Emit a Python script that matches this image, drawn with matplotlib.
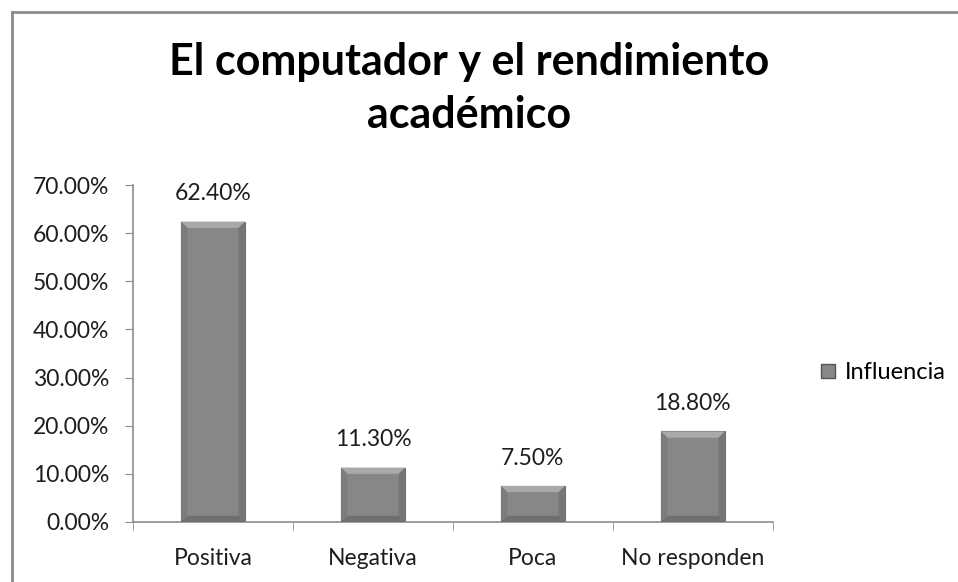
import matplotlib.pyplot as plt
from matplotlib.lines import Line2D
from matplotlib.patches import Polygon
import numpy as np

# data
categories = ["Positiva", "Negativa", "Poca", "No responden"]
influencia = [62.40, 11.30, 7.50, 18.80]
yticks = [0, 10, 20, 30, 40, 50, 60, 70]

plt.rcParams['font.family'] = ['Lato', 'DejaVu Sans']

fig = plt.figure(figsize=(9.58, 5.82), dpi=100)
ax = fig.add_axes([0.1388, 0.1031, 0.668, 0.579])

x = np.arange(len(categories))
bars = ax.bar(x, influencia, width=0.4, color='#878787', edgecolor='#707070',
              linewidth=0.8, label='Influencia', zorder=2)

# bevel effect: light top, darker sides/bottom
bx_pad, by_pad = 0.04, 1.3
for b in bars:
    x0, w, h = b.get_x(), b.get_width(), b.get_height()
    x1 = x0 + w
    ax.add_patch(Polygon([(x0, h), (x1, h), (x1 - bx_pad, h - by_pad), (x0 + bx_pad, h - by_pad)],
                         closed=True, facecolor='#a9a9a9', edgecolor='none', zorder=3))
    ax.add_patch(Polygon([(x0, 0), (x0, h), (x0 + bx_pad, h - by_pad), (x0 + bx_pad, by_pad)],
                         closed=True, facecolor='#7c7c7c', edgecolor='none', zorder=3))
    ax.add_patch(Polygon([(x1, 0), (x1, h), (x1 - bx_pad, h - by_pad), (x1 - bx_pad, by_pad)],
                         closed=True, facecolor='#767676', edgecolor='none', zorder=3))
    ax.add_patch(Polygon([(x0, 0), (x1, 0), (x1 - bx_pad, by_pad), (x0 + bx_pad, by_pad)],
                         closed=True, facecolor='#6f6f6f', edgecolor='none', zorder=3))

for xi, v in zip(x, influencia):
    ax.text(xi, v + 3.6, f"{v:.2f}%", ha='center', va='bottom', fontsize=16.5,
            color='#1e1e1e')

ax.set_xlim(-0.5, len(categories) - 0.5)
ax.set_ylim(0, 70)
ax.set_yticks(yticks)
ax.set_yticklabels([f"{t:.2f}%" for t in yticks])
ax.set_xticks(x)
ax.set_xticklabels(categories)
ax.set_xticks(np.arange(-0.5, len(categories)), minor=True)

for s in ['top', 'right']:
    ax.spines[s].set_visible(False)
for s in ['left', 'bottom']:
    ax.spines[s].set_color('#8c8c8c')
    ax.spines[s].set_linewidth(1.2)

ax.tick_params(axis='y', which='major', direction='out', length=6, color='#8c8c8c',
               labelsize=16.5, labelcolor='#1e1e1e', pad=11)
ax.tick_params(axis='x', which='major', length=0, labelsize=16.5,
               labelcolor='#1e1e1e', pad=19)
ax.tick_params(axis='x', which='minor', direction='out', length=6, color='#8c8c8c')

fig.text(0.49, 0.848, "El computador y el rendimiento\nacadémico", ha='center',
         va='center', fontsize=31, fontweight='bold', linespacing=1.38)

handle = Line2D([], [], marker='s', linestyle='none', markersize=10,
                markerfacecolor='#878787', markeredgecolor='#555555')
fig.legend([handle], ['Influencia'], loc='center left',
           bbox_to_anchor=(0.83, 0.36), frameon=False, fontsize=17,
           handletextpad=0.2, handlelength=1.0)

# chart frame (only left and top visible in the crop)
fig.add_artist(Line2D([11.5 / 958, 11.5 / 958], [0, 1 - 11.5 / 582],
                      color='#8c8c8c', linewidth=2, transform=fig.transFigure))
fig.add_artist(Line2D([11.5 / 958, 1], [1 - 11.5 / 582, 1 - 11.5 / 582],
                      color='#8c8c8c', linewidth=2, transform=fig.transFigure))

fig.savefig('out.png', dpi=100)
